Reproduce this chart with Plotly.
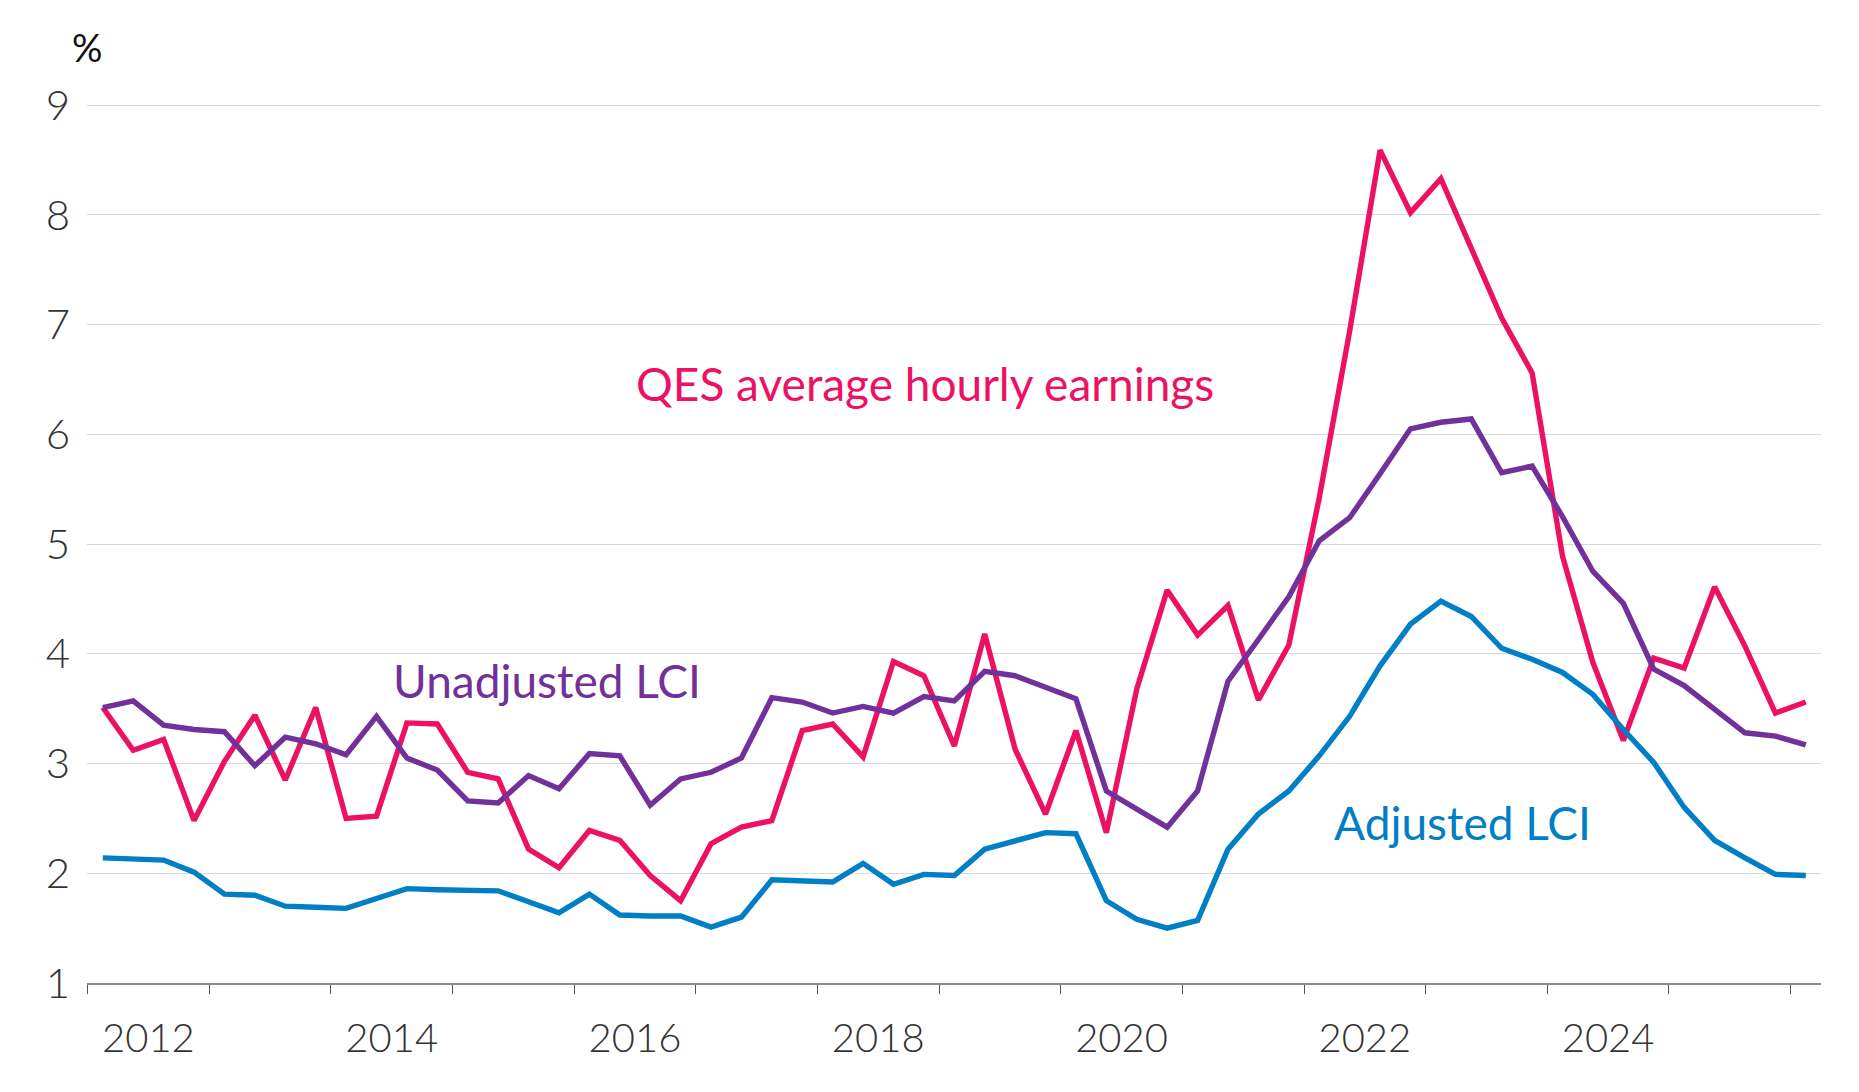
import plotly.graph_objects as go
import pandas as pd

# ---- data -------------------------------------------------------------
quarters = [str(p) for p in pd.period_range("2011Q3", "2025Q3", freq="Q")]

qes_hourly_earnings = [
    3.51, 3.12, 3.22, 2.48, 3.02, 3.44, 2.85, 3.51, 2.50, 2.52,
    3.37, 3.36, 2.92, 2.86, 2.22, 2.05, 2.39, 2.30, 1.98, 1.75,
    2.27, 2.42, 2.48, 3.30, 3.36, 3.06, 3.93, 3.80, 3.16, 4.18,
    3.13, 2.54, 3.30, 2.37, 3.68, 4.58, 4.17, 4.44, 3.58, 4.08,
    5.42, 6.94, 8.59, 8.02, 8.33, 7.68, 7.06, 6.56, 4.89, 3.92,
    3.21, 3.96, 3.87, 4.61, 4.07, 3.46, 3.56,
]

unadjusted_lci = [
    3.51, 3.57, 3.35, 3.31, 3.29, 2.98, 3.24, 3.18, 3.08, 3.43,
    3.05, 2.94, 2.66, 2.64, 2.89, 2.77, 3.09, 3.07, 2.62, 2.86,
    2.92, 3.05, 3.60, 3.56, 3.46, 3.52, 3.46, 3.61, 3.57, 3.84,
    3.80, 3.70, 3.59, 2.75, 2.58, 2.42, 2.75, 3.75, 4.13, 4.52,
    5.03, 5.24, 5.64, 6.05, 6.11, 6.14, 5.65, 5.71, 5.25, 4.75,
    4.46, 3.86, 3.71, 3.49, 3.28, 3.25, 3.17,
]

adjusted_lci = [
    2.14, 2.13, 2.12, 2.01, 1.81, 1.80, 1.70, 1.69, 1.68, 1.77,
    1.86, 1.85, 1.84, 1.84, 1.74, 1.64, 1.81, 1.62, 1.61, 1.61,
    1.51, 1.60, 1.94, 1.93, 1.92, 2.09, 1.90, 1.99, 1.98, 2.22,
    2.29, 2.37, 2.36, 1.75, 1.58, 1.50, 1.57, 2.22, 2.54, 2.75,
    3.07, 3.43, 3.89, 4.27, 4.48, 4.34, 4.05, 3.95, 3.83, 3.63,
    3.31, 3.01, 2.60, 2.30, 2.14, 1.99, 1.98,
]

year_labels = ["2012", "2014", "2016", "2018", "2020", "2022", "2024"]
y_ticks = [1, 2, 3, 4, 5, 6, 7, 8, 9]

# ---- styling ----------------------------------------------------------
PINK = "#ED1164"
PURPLE = "#71309A"
BLUE = "#007EC6"
TEXT = "#333333"
FONT = "Segoe UI Light, Lato, Open Sans, sans-serif"
LABEL_FONT = "Segoe UI, Lato, Open Sans, sans-serif"

x = list(range(len(quarters)))
n_years = (len(quarters) + 3) // 4
year_bounds = [4 * k - 0.5 for k in range(n_years)]
label_pos = [8 * k + 1.5 for k in range(len(year_labels))]

fig = go.Figure()
fig.add_trace(go.Scatter(x=x, y=qes_hourly_earnings, mode="lines",
                         line=dict(color=PINK, width=5.4),
                         name="QES average hourly earnings", customdata=quarters))
fig.add_trace(go.Scatter(x=x, y=unadjusted_lci, mode="lines",
                         line=dict(color=PURPLE, width=5.4),
                         name="Unadjusted LCI", customdata=quarters))
fig.add_trace(go.Scatter(x=x, y=adjusted_lci, mode="lines",
                         line=dict(color=BLUE, width=5.4),
                         name="Adjusted LCI", customdata=quarters))
# invisible trace on the label axis
fig.add_trace(go.Scatter(x=label_pos, y=[None] * len(label_pos), xaxis="x2",
                         showlegend=False, hoverinfo="skip"))

xrange = [-0.52, 56.5]
fig.update_layout(
    width=1859, height=1092,
    margin=dict(l=87, r=38, t=104, b=109),
    paper_bgcolor="white", plot_bgcolor="white",
    showlegend=False,
    font=dict(family=FONT, color=TEXT, size=40),
    xaxis=dict(
        range=xrange, tickvals=year_bounds, ticktext=[""] * len(year_bounds),
        ticks="outside", ticklen=9, tickwidth=1, tickcolor="#555555",
        showline=True, linecolor="#8a8a8a", linewidth=2,
        showgrid=False, zeroline=False,
    ),
    xaxis2=dict(
        range=xrange, overlaying="x", side="bottom", anchor="y",
        tickvals=label_pos, ticktext=year_labels, ticks="",
        showline=False, showgrid=False, zeroline=False,
        tickfont=dict(family=FONT, size=40, color=TEXT, weight=300),
        ticklabelstandoff=28,
    ),
    yaxis=dict(
        range=[1, 9.01], tickvals=y_ticks, ticks="",
        showgrid=True, gridcolor="#d9d9d9", gridwidth=1,
        zeroline=False, showline=False,
        tickfont=dict(family=FONT, size=42, color=TEXT, weight=300),
        ticklabelstandoff=16,
    ),
    annotations=[
        dict(text="%", xref="paper", yref="paper", x=0.0, y=1.0,
             xanchor="center", yanchor="bottom", yshift=32, showarrow=False,
             font=dict(family=LABEL_FONT, size=38, color="#111111")),
        dict(text="QES average hourly earnings", xref="x", yref="y",
             x=27.04, y=6.46, xanchor="center", yanchor="middle", showarrow=False,
             font=dict(family=LABEL_FONT, size=46, color=PINK)),
        dict(text="Unadjusted LCI", xref="x", yref="y",
             x=14.59, y=3.76, xanchor="center", yanchor="middle", showarrow=False,
             font=dict(family=LABEL_FONT, size=46, color=PURPLE)),
        dict(text="Adjusted LCI", xref="x", yref="y",
             x=44.71, y=2.46, xanchor="center", yanchor="middle", showarrow=False,
             font=dict(family=LABEL_FONT, size=46, color=BLUE)),
    ],
)

fig.write_html("out.html")
